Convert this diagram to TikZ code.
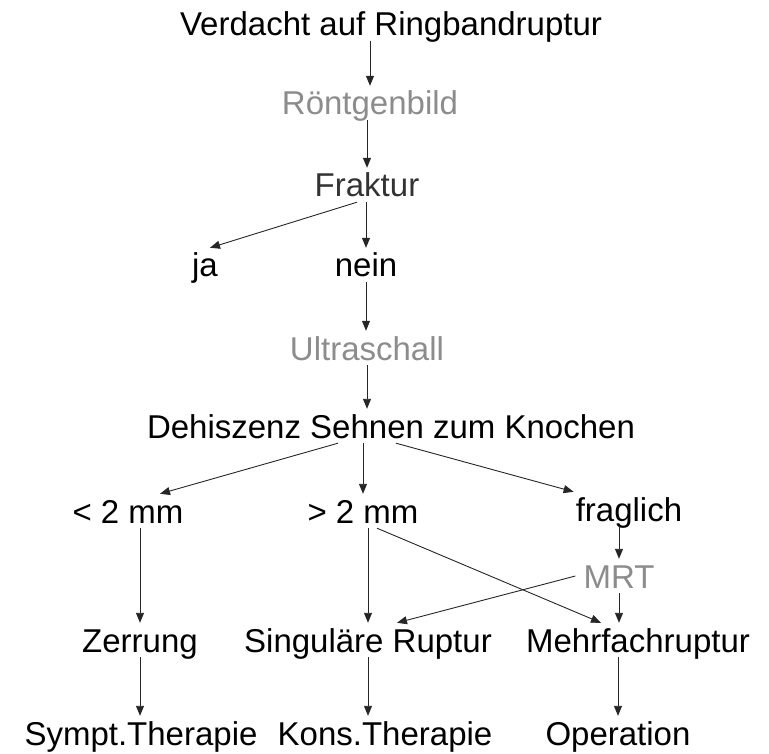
\documentclass[tikz,border=0pt]{standalone}
\usepackage{fontspec}
\setmainfont{Liberation Sans}
\usetikzlibrary{arrows.meta}

\begin{document}
\begin{tikzpicture}[x=1pt,y=-1pt,
  txt/.style={anchor=base,inner xsep=0pt,inner ysep=5pt,text height=24pt,text depth=0pt,
    font=\fontsize{33}{40}\selectfont},
  exam/.style={txt,text=black!45},
  arr/.style={-{Triangle[length=10pt,width=8pt]},line width=0.9pt,black!85}]
  \useasboundingbox (0,0) rectangle (769,754);
  \node[txt] (verdacht) at (391,36) {Verdacht auf Ringbandruptur};
  \node[exam] (roentgen) at (370,115) {Röntgenbild};
  \node[txt,text=black!80] (fraktur) at (367,197) {Fraktur};
  \node[txt] (ja) at (205,277) {ja};
  \node[txt] (nein) at (366,277) {nein};
  \node[exam] (ultra) at (367,360) {Ultraschall};
  \node[txt] (dehiszenz) at (391,438) {Dehiszenz Sehnen zum Knochen};
  \node[txt] (lt) at (128,523) {< 2 mm};
  \node[txt] (gt) at (363,523) {> 2 mm};
  \node[txt] (frag) at (629,521) {fraglich};
  \node[exam] (mrt) at (619,588) {MRT};
  \node[txt] (zerrung) at (140,652) {Zerrung};
  \node[txt] (singulaere) at (368,652) {Singuläre Ruptur};
  \node[txt] (mehrfach) at (638,652) {Mehrfachruptur};
  \node[txt] (sympt) at (141,745) {Sympt.Therapie};
  \node[txt] (kons) at (385,745) {Kons.Therapie};
  \node[txt] (operation) at (618,745) {Operation};
  % Diagnostik
  \draw[arr] (verdacht.south -| roentgen) -- (roentgen.north);
  \draw[arr] (roentgen.south -| fraktur) -- (fraktur.north);
  \draw[arr] ([xshift=-10pt]fraktur.south) -- ([xshift=5pt]ja.north);
  \draw[arr] (fraktur.south -| nein) -- (nein.north);
  \draw[arr] (nein.south) -- (nein.south |- ultra.north);
  \draw[arr] (ultra.south) -- (ultra.south |- dehiszenz.north);
  \draw[arr] ([xshift=-53pt]dehiszenz.south) -- ([xshift=32pt]lt.north);
  \draw[arr] (dehiszenz.south -| gt) -- (gt.north);
  \draw[arr] ([xshift=5pt]dehiszenz.south) -- ([xshift=-2pt]frag.north west);
  % Befund
  \draw[arr] (lt.south -| zerrung) -- (zerrung.north);
  \draw[arr] (gt.south -| singulaere) -- (singulaere.north);
  \draw[arr] ([xshift=14pt]gt.south) -- ([xshift=-37pt]mehrfach.north);
  \draw[arr] (frag.south -| mrt) -- (mrt.north);
  \draw[arr] (mrt.south) -- (mrt.south |- mehrfach.north);
  \draw[arr] ([xshift=-8pt]mrt.west) -- ([xshift=29pt]singulaere.north);
  % Therapie
  \draw[arr] (zerrung.south) -- (zerrung.south |- sympt.north);
  \draw[arr] (singulaere.south) -- (singulaere.south |- kons.north);
  \draw[arr] (mehrfach.south -| operation) -- (operation.north);
\end{tikzpicture}
\end{document}
